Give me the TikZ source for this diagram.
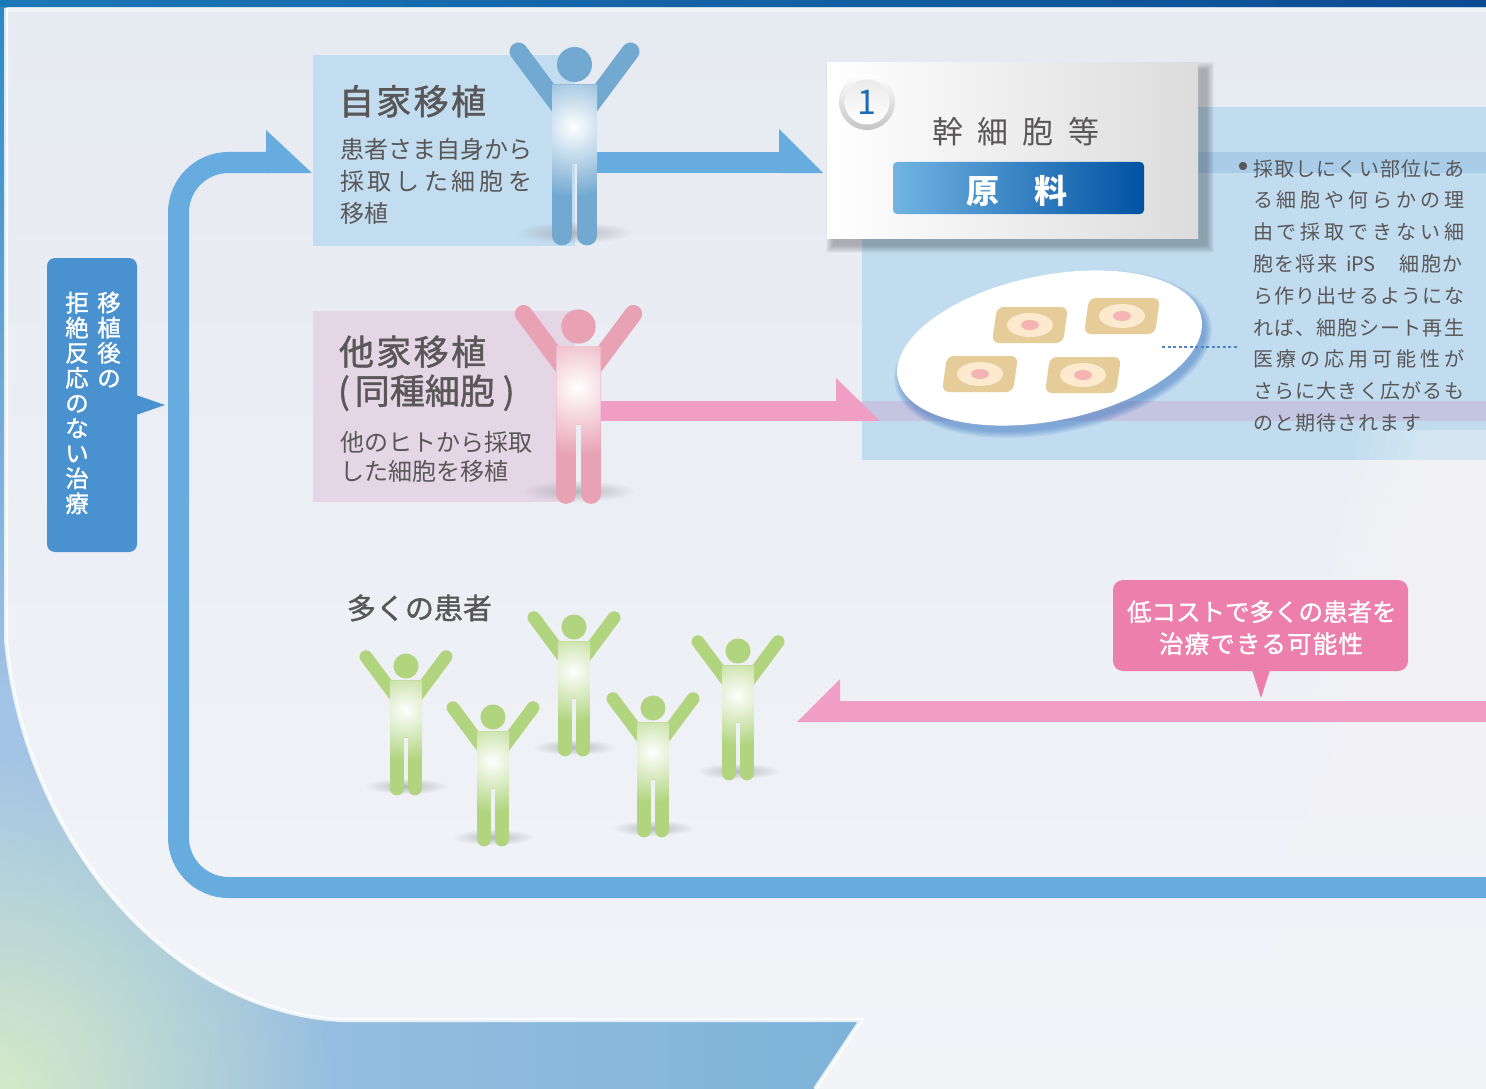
\documentclass[tikz,border=0pt]{standalone}
\usepackage{fontspec}
\setmainfont{Noto Sans CJK JP}
\newfontfamily\jpmed[FakeBold=1.2]{Noto Sans CJK JP}
\usetikzlibrary{fadings}

\definecolor{bgA}{HTML}{E6EAF1}
\definecolor{bgB}{HTML}{F2F4F8}
\definecolor{outerL}{HTML}{A3C4E6}
\definecolor{outerR}{HTML}{62A6CF}
\definecolor{cornergreen}{HTML}{D4EAC8}
\definecolor{stripblue}{HTML}{2A88C4}
\definecolor{topbarL}{HTML}{1B78B6}
\definecolor{topbarR}{HTML}{0C4A92}
\definecolor{txtgray}{HTML}{595757}
\definecolor{loopblue}{HTML}{66ACDE}
\definecolor{panelblue}{HTML}{C1DCEF}
\definecolor{bandblue}{HTML}{A9CDE9}
\definecolor{lavender}{HTML}{C4C5E1}
\definecolor{boxblue}{HTML}{C2DDEF}
\definecolor{boxpink}{HTML}{E5D6E6}
\definecolor{arrowpink}{HTML}{F19EC5}
\definecolor{callpink}{HTML}{EC7FAB}
\definecolor{callblue}{HTML}{4A92CF}
\definecolor{figblue}{HTML}{72A9D1}
\definecolor{figpink}{HTML}{E9A2B3}
\definecolor{figgreen}{HTML}{B1D57F}
\definecolor{figshadow}{HTML}{A3A7AD}
\definecolor{sheettan}{HTML}{E5CC99}
\definecolor{sheetcream}{HTML}{FCE9CE}
\definecolor{sheetred}{HTML}{F5B3B3}
\definecolor{dotblue}{HTML}{4D84CC}
\definecolor{ellshadow}{HTML}{3A72BF}
\definecolor{barL}{HTML}{72B5E3}
\definecolor{barR}{HTML}{0052A3}
\definecolor{numblue}{HTML}{1A6CB6}
\definecolor{cardR}{HTML}{DCDCDC}
\definecolor{ringgray}{HTML}{C4C4C4}

\tikzfading[name=glow, inner color=transparent!0, outer color=transparent!100]

% spread the characters of #2 evenly over a box of width #1
\newcommand\jus[2]{\makebox[#1][s]{\jusfirst#2\jusend}}
\def\jusend{}
\def\jusfirst#1{#1\jusnext}
\def\jusnext#1{\ifx\jusend#1\else\hfil#1\expandafter\jusnext\fi}

% standing figure with raised arms: head centre x, y, scale, colour
\newcommand\person[4]{%
  \begin{scope}[shift={(#1,#2)}, scale=#3]
    \fill[figshadow, opacity=0.75, path fading=glow] (0,168) ellipse (58 and 11);
    \fill[#4] (0,0) circle (17.5);
    \draw[#4, line width=18*#3, line cap=round] (-56,-13) -- (-15,42);
    \draw[#4, line width=18*#3, line cap=round] (56,-13) -- (15,42);
    \fill[#4] (-22.5,20) rectangle (22.5,100);
    \draw[#4, line width=20*#3, line cap=round] (-12.5,95) -- (-12.5,171);
    \draw[#4, line width=20*#3, line cap=round] (12.5,95) -- (12.5,171);
    \begin{scope}
      \clip (-22.5,20) rectangle (22.5,100) (-22.5,99) rectangle (-2.5,150) (2.5,99) rectangle (22.5,150);
      \fill[white, path fading=glow] (-1,62) circle (70);
    \end{scope}
  \end{scope}}

% cultured cell sheet
\newcommand\cellsheet[2]{%
  \fill[sheettan, rounded corners=7] (#1-33,#2-18) -- (#1+38,#2-18) -- (#1+33,#2+18) -- (#1-38,#2+18) -- cycle;
  \fill[sheetcream] (#1,#2) ellipse (23 and 12);
  \fill[sheetred] (#1,#2) ellipse (9 and 5);}

\begin{document}
\begin{tikzpicture}[x=1pt, y=-1pt,
  txt/.style={inner sep=0pt, outer sep=0pt, anchor=base west, text=txtgray},
  vtxt/.style={inner sep=0pt, outer sep=0pt, anchor=base, text=white,
    font=\jpmed\fontsize{23.5}{25}\selectfont},
  body/.style={font=\fontsize{24}{28}\selectfont},
  title/.style={font=\jpmed\fontsize{35}{40}\selectfont},
  note/.style={txt, font=\fontsize{20}{24}\selectfont}]
\useasboundingbox (0,0) rectangle (1486,1089);

% ---- page background ----
\shade[left color=outerL, right color=outerR] (0,0) rectangle (1486,1089);
\fill[cornergreen, path fading=glow] (0,1089) circle (340);
\shade[top color=stripblue, bottom color=outerL] (0,0) rectangle (8,700);
\shade[top color=bgA, bottom color=bgB]
  (6,8) -- (1486,8) -- (1486,1089) -- (815,1089) -- (861,1020) -- (340,1020)
  .. controls (170,1010) and (25,840) .. (6,640) -- cycle;
\draw[white, line width=4, opacity=0.8]
  (6,8) -- (6,640) .. controls (25,840) and (170,1010) .. (340,1020) -- (861,1020) -- (815,1089);
\shade[left color=topbarL, right color=topbarR] (0,0) rectangle (1486,7);
\fill[white, opacity=0.5] (6,7) rectangle (1486,12);

% ---- right information panel ----
\fill[panelblue] (862,107) rectangle (1486,460);
\fill[bandblue] (862,152) rectangle (1486,173);
\fill[lavender] (862,401) rectangle (1486,421);
% soft light streak across the lower right
\foreach \k in {0,...,5}
  \fill[white, opacity=0.07] ({1360+14*\k},430) .. controls ({1310+14*\k},700) .. ({1250+14*\k},1089) -- (1486,1089) -- (1486,430) -- cycle;

% ---- return loop ----
\coordinate (loopIn) at (1486,887.5);
\coordinate (loopEnd) at (268,162.5);
\draw[loopblue, line width=21, rounded corners=50] (loopIn) -- (178.5,887.5) -- (178.5,162.5) -- (loopEnd);
\fill[loopblue] (266,130) -- (312,173) -- (266,173) -- cycle;

% ---- transplant boxes ----
\fill[boxblue] (313,55) rectangle (575,246);
\fill[boxpink] (313,311) rectangle (575,502);

% ---- arrows towards the raw material ----
\coordinate (autoOut) at (590,162.5);
\coordinate (autoTip) at (781,162.5);
\fill[loopblue] (590,152) rectangle (781,173);
\fill[loopblue] (779,129) -- (823,173) -- (779,173) -- cycle;
\fill[arrowpink] (595,401) rectangle (838,421);
\fill[arrowpink] (836,378) -- (880,421) -- (836,421) -- cycle;

% ---- figures ----
\person{574.5}{64.5}{1}{figblue}
\person{578.5}{326.5}{0.98}{figpink}
\person{406}{666}{0.715}{figgreen}
\person{574}{627}{0.715}{figgreen}
\person{738}{651}{0.715}{figgreen}
\person{493}{717}{0.715}{figgreen}
\person{653}{708}{0.715}{figgreen}

% ---- stem cell card ----
\foreach \k in {1,...,8}
  \fill[black, opacity=0.035] (834-\k,70-\k) rectangle (1206+\k,245+\k);
\shade[left color=white, right color=cardR] (827,63) rectangle (1198,238);
\shade[top color=white, bottom color=ringgray] (867,102) circle (28);
\shade[top color=white!92!black, bottom color=white] (867,102) circle (22.5);
\node[inner sep=0pt, anchor=base, text=numblue, font=\fontsize{34}{38}\selectfont] (num) at (867,115) {1};
\node[txt, font=\fontsize{31}{36}\selectfont] (stem) at (932,143.5) {\jus{167pt}{幹細胞等}};
\shade[left color=barL, right color=barR, rounded corners=4] (893,162) rectangle (1144,214);
\node[txt, text=white, font=\bfseries\fontsize{33}{38}\selectfont] (raw) at (966,204) {\jus{102pt}{原料}};

% ---- cell sheet dish ----
\foreach \k in {0,...,5}
  \fill[ellshadow, opacity=0.1, rotate around={11.4:(1053,354)}] (1053,354) ellipse ({154.8+1.3*\k} and {72.7+1.3*\k});
\fill[white, rotate around={11.4:(1049.5,348)}] (1049.5,348) ellipse (154.8 and 72.7);
\cellsheet{1030}{325}
\cellsheet{1122}{316}
\cellsheet{980}{374}
\cellsheet{1083}{375}
\coordinate (dishPt) at (1162,347);
\coordinate (noteLead) at (1238,347);
\draw[dotblue, line width=2.5, dash pattern=on 3 off 2.5] (dishPt) -- (noteLead);

% ---- panel note ----
\fill[txtgray] (1243,166) circle (4.2);
\node[note] (n1) at (1253,176) {\jus{211pt}{採取しにくい部位にあ}};
\node[note] (n2) at (1253,207.8) {\jus{211pt}{る細胞や何らかの理}};
\node[note] (n3) at (1253,239.6) {\jus{211pt}{由で採取できない細}};
\node[note] (n4) at (1253,271.4) {\jus{84pt}{胞を将来}\hspace{9pt}iPS\hspace{24pt}\jus{63pt}{細胞か}};
\node[note] (n5) at (1253,303.2) {\jus{211pt}{ら作り出せるようにな}};
\node[note] (n6) at (1253,335) {\jus{211pt}{れば、細胞シート再生}};
\node[note] (n7) at (1253,366.8) {\jus{211pt}{医療の応用可能性が}};
\node[note] (n8) at (1253,398.6) {\jus{211pt}{さらに大きく広がるも}};
\node[note] (n9) at (1253,430.4) {\jus{168pt}{のと期待されます}};

% ---- box texts ----
\node[txt, title] (autoTitle) at (339,114.5) {\jus{147pt}{自家移植}};
\node[txt, body] (auto1) at (340,158) {患者さま自身から};
\node[txt, body] (auto2) at (340,190) {\jus{192pt}{採取した細胞を}};
\node[txt, body] (auto3) at (340,222) {移植};
\node[txt, title] (alloTitle) at (339,365) {\jus{147pt}{他家移植}};
\node[txt, title] (alloSub) at (338,404) {(\kern5pt 同種細胞\kern8pt)};
\node[txt, body] (allo1) at (340,451) {他のヒトから採取};
\node[txt, body] (allo2) at (340,480) {した細胞を移植};
\node[txt, font=\jpmed\fontsize{29}{34}\selectfont] (many) at (347,619) {多くの患者};

% ---- left callout ----
\fill[callblue, rounded corners=8] (47,258) rectangle (137,552);
\fill[callblue] (136,395) -- (165,405) -- (136,415) -- cycle;
\foreach \c [count=\i from 0] in {移,植,後,の}
  \node[vtxt] (vr\i) at (109,{311.5+25.1*\i}) {\c};
\foreach \c [count=\i from 0] in {拒,絶,反,応,の,な,い,治,療}
  \node[vtxt] (vl\i) at (77,{311.5+25.1*\i}) {\c};

% ---- bottom return arrow and callout ----
\coordinate (retIn) at (1486,711.5);
\coordinate (retTip) at (797,722);
\fill[arrowpink] (838,701) rectangle (1486,722);
\fill[arrowpink] (840,679) -- (797,722) -- (840,722) -- cycle;
\fill[callpink, rounded corners=10] (1113,580) rectangle (1408,671);
\fill[callpink] (1252,670) -- (1261,698) -- (1270,670) -- cycle;
\node[inner sep=0pt, anchor=base, text=white, font=\jpmed\fontsize{24.5}{28}\selectfont] (cost1) at (1261,621) {\jus{268pt}{低コストで多くの患者を}};
\node[inner sep=0pt, anchor=base, text=white, font=\jpmed\fontsize{24.5}{28}\selectfont] (cost2) at (1261,653) {\jus{204pt}{治療できる可能性}};
\end{tikzpicture}
\end{document}
